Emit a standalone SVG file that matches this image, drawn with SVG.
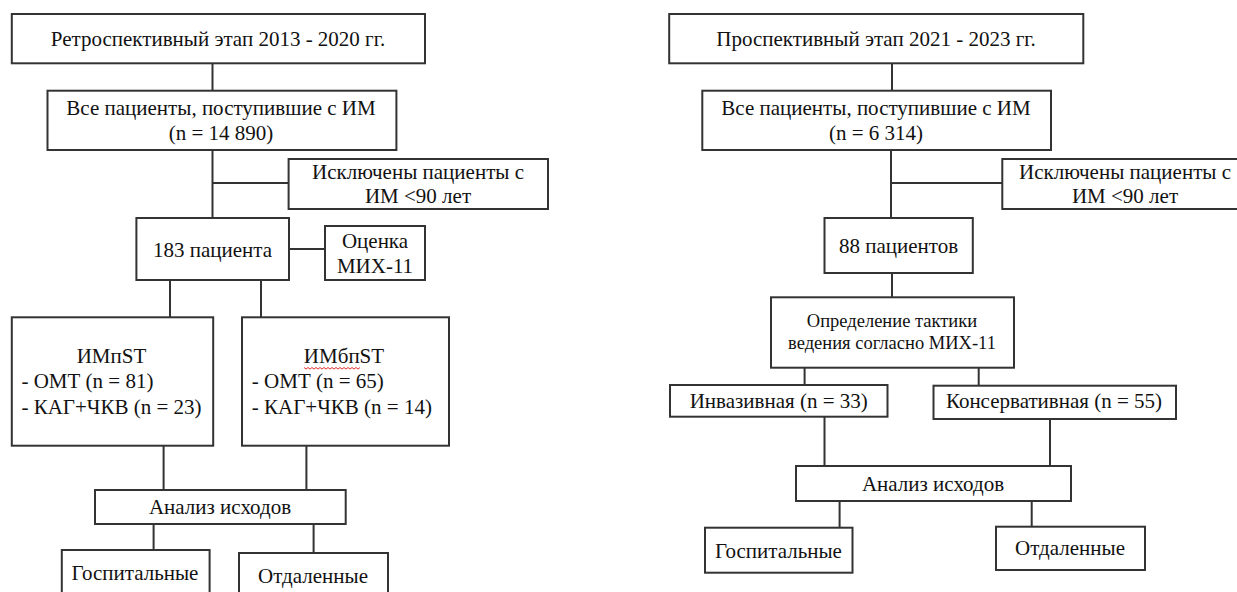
<svg xmlns="http://www.w3.org/2000/svg" width="1237" height="592" viewBox="0 0 1237 592">
<style>
.box{fill:#fff;stroke:#333;stroke-width:2}
.c{stroke:#333;stroke-width:2;fill:none}
.t{font-family:"Liberation Serif","Times New Roman",serif;font-size:21px;fill:#111}
.m{text-anchor:middle}
.s{font-size:18.5px}
.sq{fill:none;stroke:#e03030;stroke-width:1}
</style>
<rect width="1237" height="592" fill="#fff"/>
<g id="connectors">
  <path class="c" d="M212.5 63V91M212.5 150V218M212.5 183H288.6M289 249H325M170 280V317M261 280V317M163.6 446V490M306.4 446V490M153.6 524V550M313.6 524V553"/>
  <path class="c" d="M892 63V91M891 150V218M891 183H1002.3M892 273V297M804.6 368V385M978.7 366V385.7M824.5 417V466M1050 419V466M839.6 501V527.7M1031.7 499.3V526.7"/>
</g>
<g id="l-retro">
  <rect class="box" x="11.8" y="14" width="413.2" height="49.3"/>
  <text class="t m" x="218" y="46">Ретроспективный этап 2013 - 2020 гг.</text>
</g>
<g id="l-all">
  <rect class="box" x="47.5" y="90.7" width="348.9" height="59.3"/>
  <text class="t m" x="221" y="115">Все пациенты, поступившие с ИМ</text>
  <text class="t m" x="221" y="140">(n = 14 890)</text>
</g>
<g id="l-excl">
  <rect class="box" x="288.6" y="159" width="259.4" height="50"/>
  <text class="t m" x="418" y="179">Исключены пациенты с</text>
  <text class="t m" x="418" y="203">ИМ &lt;90 лет</text>
</g>
<g id="l-183">
  <rect class="box" x="136.4" y="218" width="152.6" height="62"/>
  <text class="t m" x="212.5" y="257">183 пациента</text>
</g>
<g id="l-mih">
  <rect class="box" x="325" y="226" width="100" height="54"/>
  <text class="t m" x="375" y="248">Оценка</text>
  <text class="t m" x="375" y="273">МИХ-11</text>
</g>
<g id="l-stemi">
  <rect class="box" x="11.8" y="317.3" width="201.4" height="128.4"/>
  <text class="t m" x="111.5" y="363.3">ИМпST</text>
  <text class="t" x="21.4" y="388.3">- ОМТ (n = 81)</text>
  <text class="t" x="21.4" y="414">- КАГ+ЧКВ (n = 23)</text>
</g>
<g id="l-nstemi">
  <rect class="box" x="242" y="317.3" width="207" height="128.4"/>
  <text class="t m" x="344" y="363.3">ИМбпST</text>
  <path class="sq" d="M304 367.5l2 1.6 2-1.6 2 1.6 2-1.6 2 1.6 2-1.6 2 1.6 2-1.6 2 1.6 2-1.6 2 1.6 2-1.6 2 1.6 2-1.6 2 1.6 2-1.6 2 1.6 2-1.6 2 1.6 2-1.6 2 1.6 2-1.6 2 1.6 2-1.6 2 1.6 2-1.6 2 1.6 2-1.6"/>
  <text class="t" x="251.8" y="388.3">- ОМТ (n = 65)</text>
  <text class="t" x="251.8" y="414">- КАГ+ЧКВ (n = 14)</text>
</g>
<g id="l-analysis">
  <rect class="box" x="95" y="490" width="250.7" height="34"/>
  <text class="t m" x="220" y="514">Анализ исходов</text>
</g>
<g id="l-hosp">
  <rect class="box" x="61.8" y="550" width="147.8" height="60"/>
  <text class="t m" x="135" y="580">Госпитальные</text>
</g>
<g id="l-remote">
  <rect class="box" x="239" y="553" width="149" height="60"/>
  <text class="t m" x="313" y="583">Отдаленные</text>
</g>
<g id="r-prosp">
  <rect class="box" x="669.2" y="14" width="414.1" height="49.3"/>
  <text class="t m" x="876" y="46">Проспективный этап 2021 - 2023 гг.</text>
</g>
<g id="r-all">
  <rect class="box" x="702.3" y="90.7" width="348.7" height="59.3"/>
  <text class="t m" x="876" y="115">Все пациенты, поступившие с ИМ</text>
  <text class="t m" x="876" y="140">(n = 6 314)</text>
</g>
<g id="r-excl">
  <rect class="box" x="1002.3" y="159" width="250" height="50"/>
  <text class="t m" x="1125" y="179">Исключены пациенты с</text>
  <text class="t m" x="1125" y="203">ИМ &lt;90 лет</text>
</g>
<g id="r-88">
  <rect class="box" x="824.5" y="218" width="148.3" height="55"/>
  <text class="t m" x="898.5" y="253">88 пациентов</text>
</g>
<g id="r-tactic">
  <rect class="box" x="771" y="297.3" width="243" height="70.4"/>
  <text class="t m s" x="892" y="326.7">Определение тактики</text>
  <text class="t m s" x="892" y="349.3">ведения согласно МИХ-11</text>
</g>
<g id="r-inv">
  <rect class="box" x="670" y="385" width="217.5" height="31.7"/>
  <text class="t m" x="778.7" y="408.3">Инвазивная (n = 33)</text>
</g>
<g id="r-cons">
  <rect class="box" x="933.5" y="385.7" width="242.5" height="33.3"/>
  <text class="t m" x="1054" y="408.3">Консервативная (n = 55)</text>
</g>
<g id="r-analysis">
  <rect class="box" x="796" y="466" width="275" height="35"/>
  <text class="t m" x="933" y="490.7">Анализ исходов</text>
</g>
<g id="r-hosp">
  <rect class="box" x="705" y="527.7" width="147.5" height="45"/>
  <text class="t m" x="778.5" y="558.3">Госпитальные</text>
</g>
<g id="r-remote">
  <rect class="box" x="996" y="526.7" width="149" height="43.3"/>
  <text class="t m" x="1070" y="555">Отдаленные</text>
</g>
</svg>
